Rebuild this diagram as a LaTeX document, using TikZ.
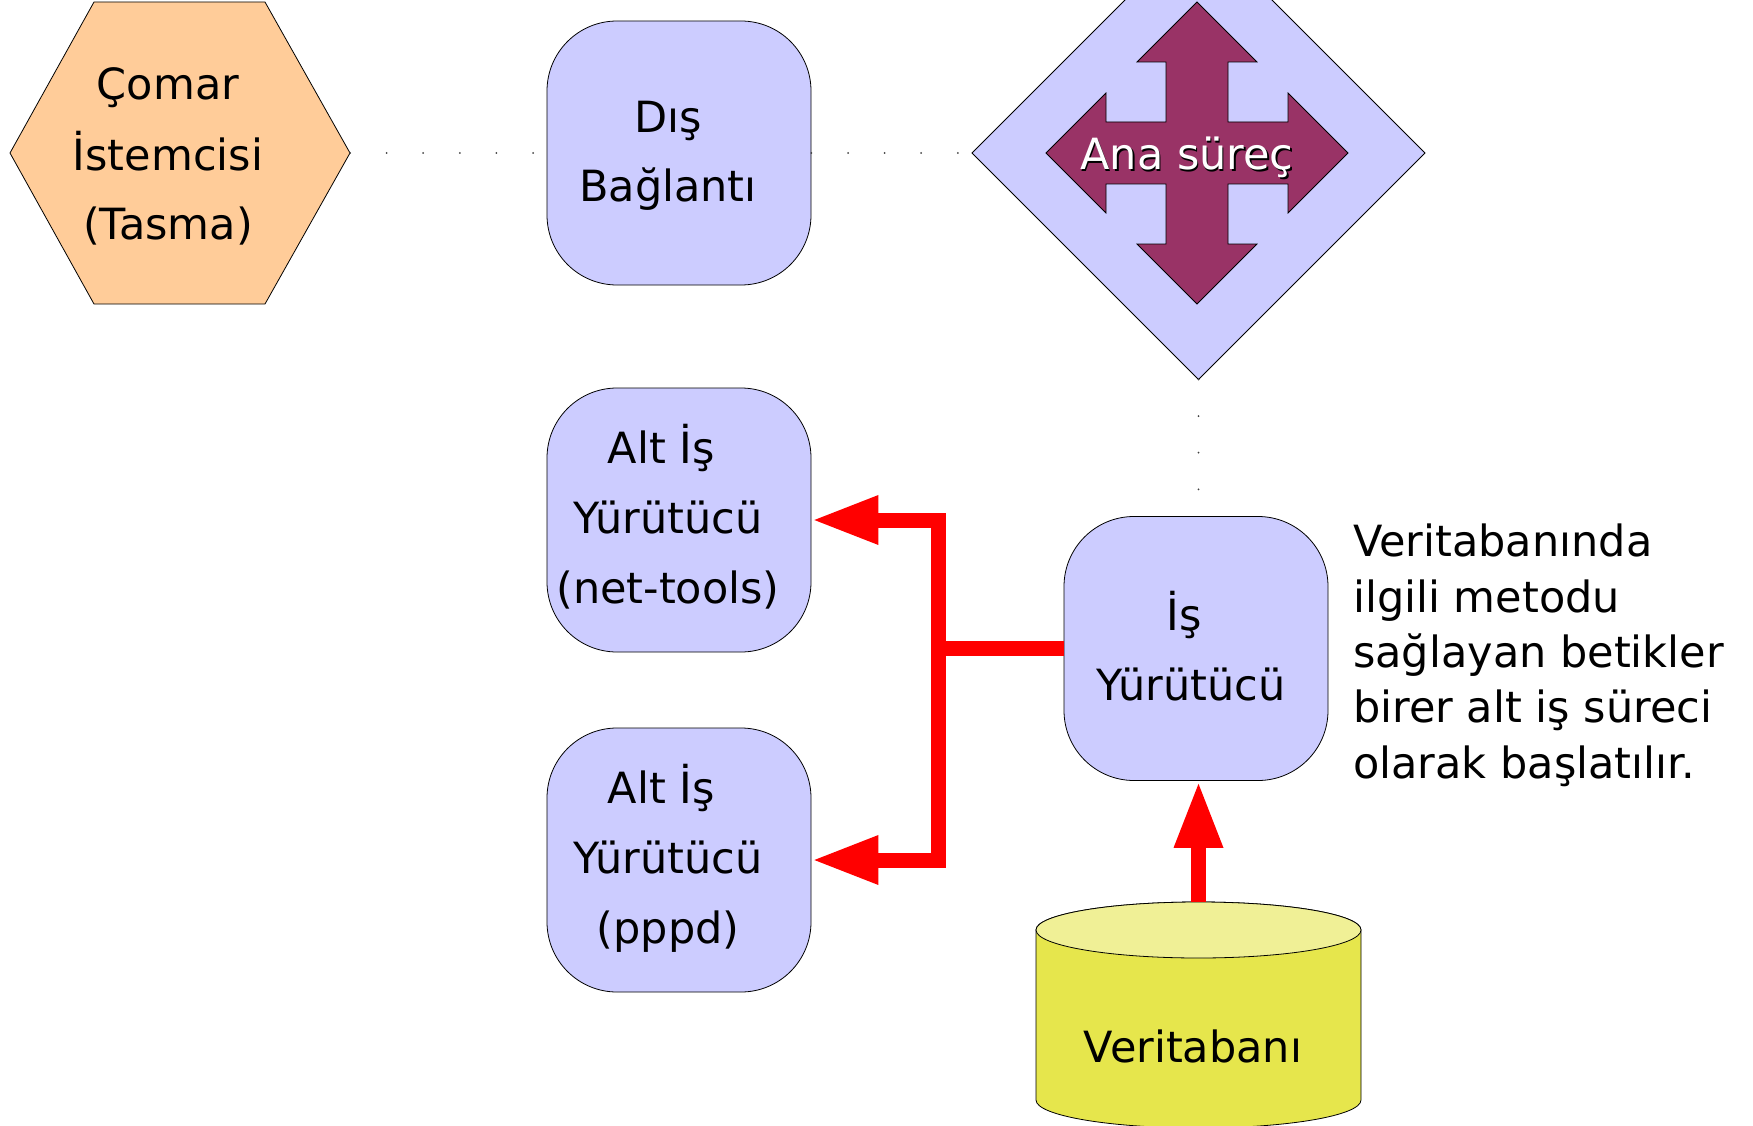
\documentclass[tikz,border=0pt]{standalone}
\usepackage{fontspec}
\setmainfont{DejaVu Sans}
\usetikzlibrary{arrows.meta}
\definecolor{peach}{HTML}{FFCC99}
\definecolor{lav}{HTML}{CCCCFF}
\definecolor{plum}{HTML}{993366}
\definecolor{dbbody}{HTML}{E6E64C}
\definecolor{dbtopc}{HTML}{F0F096}
\begin{document}
\begin{tikzpicture}[x=1pt,y=-1pt,
  lbl/.style={font=\fontsize{43pt}{70pt}\selectfont, align=center, inner sep=0pt},
  onelbl/.style={font=\fontsize{43pt}{70pt}\selectfont, inner sep=0pt, anchor=base},
  rbox/.style={draw=black, line width=0.8pt, fill=lav, rounded corners=70pt, minimum width=264pt, minimum height=264pt, inner sep=0pt},
  shapeline/.style={draw=black, line width=0.8pt},
  dotline/.style={draw=black!75, line width=2pt, dash pattern=on 0pt off 36.6pt, line cap=round},
  redline/.style={draw=red, line width=15pt},
  redarrow/.style={redline, -{Triangle[length=67pt,width=45pt]}}]
\useasboundingbox (0,0) rectangle (1753,1126);
\clip (0,0) rectangle (1753,1126);
% hexagon
\path[shapeline, fill=peach] (10,153) -- (94,2) -- (265,2) -- (350,153) -- (265,304) -- (94,304) -- cycle;
\coordinate (hexE) at (350,153);
\node[lbl] (hex) at (168,156) {\strut Çomar\\İstemcisi\\(Tasma)\strut};
% Dis Baglanti
\node[rbox] (dis) at (679,153) {};
\node[lbl] (distext) at (668,153) {\strut Dış\\Bağlantı\strut};
% diamond
\path[shapeline, fill=lav] (972,153) -- (1198.5,-73.5) -- (1425,153) -- (1198.5,379.5) -- cycle;
\coordinate (diaW) at (972,153);
\coordinate (diaS) at (1198.5,379.5);
% cross arrow
\path[shapeline, fill=plum, shift={(1197,153)}]
  (0,-151) -- (60,-91) -- (31,-91) -- (31,-31) -- (91,-31) -- (91,-60) -- (151,0)
  -- (91,60) -- (91,31) -- (31,31) -- (31,91) -- (60,91) -- (0,151)
  -- (-60,91) -- (-31,91) -- (-31,31) -- (-91,31) -- (-91,60) -- (-151,0)
  -- (-91,-60) -- (-91,-31) -- (-31,-31) -- (-31,-91) -- (-60,-91) -- cycle;
\node[onelbl, text=black] (anash) at (1188.5,171.5) {Ana süreç};
\node[onelbl, text=white] (ana) at (1187,170) {Ana süreç};
% sub executors
\node[rbox] (alt1) at (679,520) {};
\node[lbl] (alt1text) at (668,519) {\strut Alt İş\rule{0.32em}{0pt}\\Yürütücü\\(net-tools)\strut};
\node[rbox] (alt2) at (679,860) {};
\node[lbl] (alt2text) at (668,859) {\strut Alt İş\rule{0.32em}{0pt}\\Yürütücü\\(pppd)\strut};
% main executor
\node[rbox] (isy) at (1196,648.5) {};
\node[lbl] (isytext) at (1191,651) {\strut İş\rule{0.32em}{0pt}\\Yürütücü\strut};
% database cylinder
\path[shapeline, fill=dbbody] (1036,930) -- (1036,1100)
  arc[start angle=180, end angle=360, x radius=162.5pt, y radius=28pt]
  -- (1361,930)
  arc[start angle=0, end angle=180, x radius=162.5pt, y radius=28pt] -- cycle;
\path[shapeline, fill=dbtopc] (1198.5,930) ellipse[x radius=162.5pt, y radius=28pt];
\coordinate (dbtop) at (1198.5,902);
\node[onelbl] (db) at (1193,1062) {Veritabanı};
% note
\node[font=\fontsize{43pt}{55.3pt}\selectfont, align=left, anchor=north west, inner sep=0pt] (note) at (1353,518)
  {\strut Veritabanında\\ilgili metodu\\sağlayan betikler\\birer alt iş süreci\\olarak başlatılır.\strut};
% dotted connectors
\draw[dotline] (hexE) -- (dis.west);
\draw[dotline] (dis.east) -- (diaW);
\draw[dotline] (diaS) -- (diaS |- isy.north);
% red connectors
\draw[redline] (isy.west) -- ++(-125.5,0) coordinate (j);
\draw[redarrow] (j) |- (alt1.east);
\draw[redarrow] (j) |- (alt2.east);
\draw[redarrow] (dbtop) -- (dbtop |- isy.south);
\end{tikzpicture}
\end{document}
